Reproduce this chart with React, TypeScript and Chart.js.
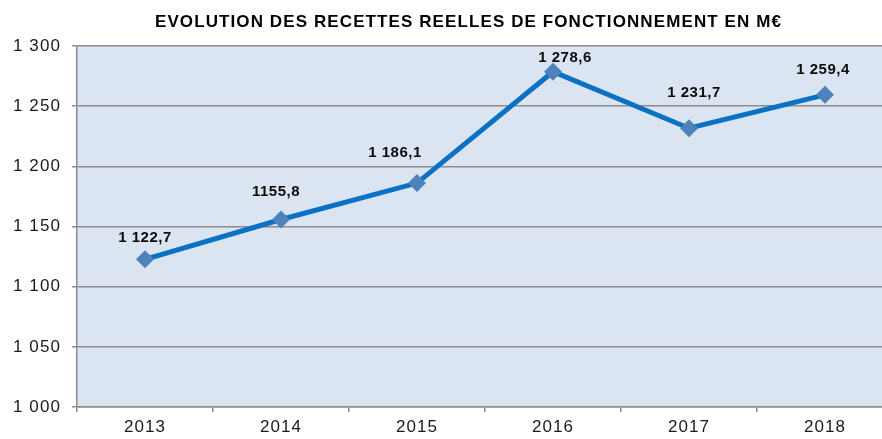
import React, { useEffect, useRef } from 'react';
import { Chart, registerables } from 'chart.js';

Chart.register(...registerables);

// ---- Data ----
const categories: string[] = ['2013', '2014', '2015', '2016', '2017', '2018'];
const recettes: number[] = [1122.7, 1155.8, 1186.1, 1278.6, 1231.7, 1259.4];
const valueLabels: string[] = ['1 122,7', '1155,8', '1 186,1', '1 278,6', '1 231,7', '1 259,4'];
const yMin = 1000;
const yMax = 1300;
const yStep = 50;
const chartTitle = 'EVOLUTION DES RECETTES REELLES DE FONCTIONNEMENT EN M€';

// ---- Style / placement ----
const CANVAS_W = 937;
const CANVAS_H = 439;
const labelDx = [0, -5, -22, 12, 5, -2];
const labelDy = [-21, -28, -30, -14, -35, -25];

const formatTick = (v: number) => {
  const s = Math.round(v).toString();
  return s.length > 3 ? s.slice(0, s.length - 3) + ' ' + s.slice(-3) : s;
};

const plotBgPlugin = {
  id: 'plotBg',
  beforeDraw(chart: any) {
    const { ctx, chartArea: a } = chart;
    ctx.save();
    ctx.fillStyle = '#dbe5f1';
    ctx.fillRect(a.left, a.top, a.right - a.left, a.bottom - a.top);
    ctx.restore();
    (ctx as any).letterSpacing = '1.1px';
  },
  afterDraw(chart: any) {
    (chart.ctx as any).letterSpacing = '0px';
  },
};

const pointLabelPlugin = {
  id: 'pointLabels',
  afterDatasetsDraw(chart: any) {
    const { ctx } = chart;
    const meta = chart.getDatasetMeta(0);
    ctx.save();
    (ctx as any).letterSpacing = '0.5px';
    ctx.font = 'bold 15px "Liberation Sans", Arial, sans-serif';
    ctx.fillStyle = '#0d0d0d';
    ctx.textAlign = 'center';
    ctx.textBaseline = 'middle';
    meta.data.forEach((pt: any, i: number) => {
      ctx.fillText(valueLabels[i], pt.x + labelDx[i], pt.y + labelDy[i]);
    });
    ctx.restore();
  },
};

export default function App() {
  const ref = useRef<HTMLCanvasElement | null>(null);

  useEffect(() => {
    if (!ref.current) return;
    const chart = new Chart(ref.current, {
      type: 'line',
      data: {
        labels: categories,
        datasets: [
          {
            data: recettes,
            yAxisID: 'y',
            borderColor: '#0a72c4',
            borderWidth: 5,
            pointStyle: 'rectRot',
            pointRadius: 9,
            pointBackgroundColor: '#4f81bd',
            pointBorderColor: '#4f81bd',
            pointBorderWidth: 0,
            tension: 0,
            fill: false,
          },
        ],
      },
      options: {
        responsive: false,
        animation: false,
        devicePixelRatio: 1,
        layout: { padding: 0 },
        plugins: {
          legend: { display: false },
          tooltip: { enabled: false },
          title: {
            display: true,
            text: chartTitle,
            color: '#000000',
            font: { family: '"Liberation Sans", Arial, sans-serif', size: 17, weight: 'bold' },
            padding: { top: 12, bottom: 13.6 },
          },
        },
        scales: {
          x: {
            type: 'category',
            offset: true,
            afterFit: (s: any) => { s.height = 32; },
            grid: {
              offset: true,
              drawOnChartArea: false,
              drawTicks: true,
              tickLength: 5,
              color: '#8c8c8c',
              lineWidth: 1.5,
            },
            border: { display: true, color: '#8c8c8c', width: 1.5 },
            ticks: {
              color: '#1a1a1a',
              padding: 5,
              font: { family: '"Liberation Sans", Arial, sans-serif', size: 17 },
              maxRotation: 0,
            },
          },
          y: {
            min: yMin,
            max: yMax,
            afterFit: (s: any) => { s.width = 77; },
            grid: {
              color: '#8c8c8c',
              lineWidth: 1.5,
              drawTicks: true,
              tickLength: 5,
            },
            border: { display: true, color: '#8c8c8c', width: 1.5 },
            ticks: {
              stepSize: yStep,
              color: '#1a1a1a',
              padding: 11,
              font: { family: '"Liberation Sans", Arial, sans-serif', size: 17 },
              callback: (v: any) => formatTick(Number(v)),
            },
          },
          yRight: {
            position: 'right',
            min: yMin,
            max: yMax,
            afterFit: (s: any) => { s.width = 44; },
            grid: { display: false, drawOnChartArea: false, drawTicks: false },
            border: { display: false },
            ticks: { display: false },
          },
        },
      },
      plugins: [plotBgPlugin, pointLabelPlugin],
    });
    return () => chart.destroy();
  }, []);

  return (
    <div
      style={{
        position: 'fixed',
        left: 0,
        top: 0,
        width: 882,
        height: 439,
        overflow: 'hidden',
        background: '#ffffff',
      }}
    >
      <canvas
        ref={ref}
        width={CANVAS_W}
        height={CANVAS_H}
        style={{ width: CANVAS_W, height: CANVAS_H, display: 'block' }}
      />
    </div>
  );
}
